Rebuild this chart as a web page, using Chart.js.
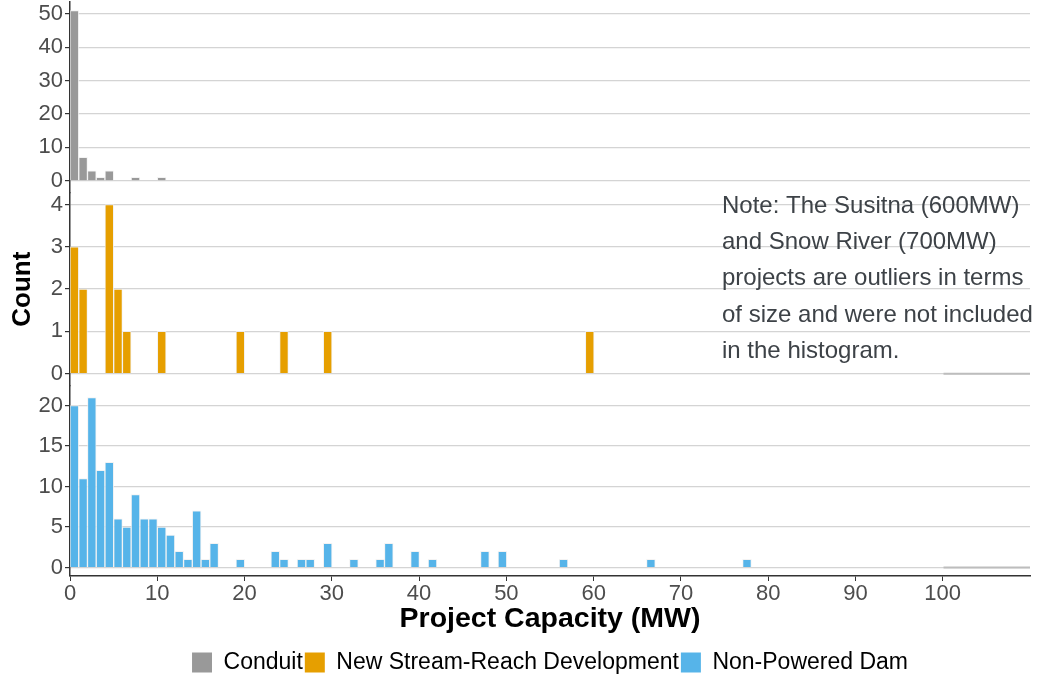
<!DOCTYPE html>
<html>
<head>
<meta charset="utf-8">
<script src="https://cdn.jsdelivr.net/npm/chart.js@4/dist/chart.umd.min.js"></script>
<style>
  html, body { margin: 0; padding: 0; background: #fff; }
  #wrap { width: 1038px; height: 678px; position: relative; }
</style>
</head>
<body>
<div id="wrap"><canvas id="chart" width="1038" height="678"></canvas></div>
<script>
// histogram bins (lower edge, MW) and counts per category, 1 MW bins
const conduitBins = [0, 1, 2, 3, 4, 7, 10];
const conduitCounts = [51, 7, 3, 1, 3, 1, 1];

const nsdBins = [0, 1, 4, 5, 6, 10, 19, 24, 29, 59];
const nsdCounts = [3, 2, 4, 2, 1, 1, 1, 1, 1, 1];

const npdBins = [0, 1, 2, 3, 4, 5, 6, 7, 8, 9, 10, 11, 12, 13, 14, 15, 16,
                 19, 23, 24, 26, 27, 29, 32, 35, 36, 39, 41, 47, 49, 56, 66, 77];
const npdCounts = [20, 11, 21, 12, 13, 6, 5, 9, 6, 6, 5, 4, 2, 1, 7, 1, 3,
                   1, 2, 1, 1, 1, 3, 1, 1, 3, 2, 1, 2, 2, 1, 1, 1];

const seriesNames = ['Conduit', 'New Stream-Reach Development', 'Non-Powered Dam'];
const seriesColors = ['#999999', '#E69F00', '#56B4E9'];

const xTickMax = 100;

const noteLines = [
  'Note: The Susitna (600MW)',
  'and Snow River (700MW)',
  'projects are outliers in terms',
  'of size and were not included',
  'in the histogram.'
];

const FONT = '"Liberation Sans", Arial, sans-serif';

function toPoints(bins, counts) {
  return bins.map((b, i) => ({ x: b + 0.5, y: counts[i] }));
}

function yAxis(min, max, step, weight, title) {
  return {
    type: 'linear',
    position: 'left',
    stack: 'panels',
    stackWeight: weight,
    min: min,
    max: max,
    grid: { color: '#d4d4d4', lineWidth: 1.2, tickColor: '#333', tickLength: 5 },
    border: { color: '#333', width: 1.5 },
    ticks: {
      stepSize: step,
      includeBounds: false,
      autoSkip: false,
      padding: 2,
      color: '#4d4d4d',
      font: { family: FONT, size: 22 }
    },
    title: title ? {
      display: true,
      text: title,
      color: '#000',
      font: { family: FONT, size: 26, weight: 'bold' },
      padding: { top: 7, bottom: 0 }
    } : { display: false },
    afterFit(scale) {
      scale.width = 70;
      scale.paddingTop = 0;
      scale.paddingBottom = 0;
    }
  };
}

// note text in the middle panel
const notePlugin = {
  id: 'note',
  afterDraw(chart) {
    const ctx = chart.ctx;
    ctx.save();
    ctx.font = '24px ' + FONT;
    ctx.fillStyle = '#3d4247';
    ctx.textAlign = 'left';
    ctx.textBaseline = 'alphabetic';
    noteLines.forEach((line, i) => {
      ctx.fillText(line, 722, 213 + i * 36.2);
    });
    ctx.restore();
  }
};

// slightly darker zero line past 100 MW, as in the original
const zeroStubPlugin = {
  id: 'zeroStub',
  beforeDatasetsDraw(chart) {
    const ctx = chart.ctx;
    const x = chart.scales.x;
    ctx.save();
    ctx.strokeStyle = '#bdbdbd';
    ctx.lineWidth = 2;
    ['yNsd', 'yNpd'].forEach(id => {
      const y = chart.scales[id].getPixelForValue(0);
      ctx.beginPath();
      ctx.moveTo(x.getPixelForValue(xTickMax), y);
      ctx.lineTo(chart.chartArea.right, y);
      ctx.stroke();
    });
    ctx.restore();
  }
};

new Chart(document.getElementById('chart').getContext('2d'), {
  type: 'bar',
  data: {
    datasets: [
      { label: seriesNames[2], data: toPoints(npdBins, npdCounts), yAxisID: 'yNpd',
        backgroundColor: seriesColors[2] },
      { label: seriesNames[1], data: toPoints(nsdBins, nsdCounts), yAxisID: 'yNsd',
        backgroundColor: seriesColors[1] },
      { label: seriesNames[0], data: toPoints(conduitBins, conduitCounts), yAxisID: 'yCon',
        backgroundColor: seriesColors[0] }
    ].map(ds => Object.assign(ds, {
      grouped: false,
      barPercentage: 1,
      categoryPercentage: 1,
      borderWidth: 1,
      borderColor: 'rgba(240,240,240,0.8)'
    }))
  },
  options: {
    responsive: false,
    animation: false,
    layout: { padding: { top: 2, right: 8, left: 0, bottom: -6 } },
    scales: {
      x: {
        type: 'linear',
        offset: false,
        min: 0,
        max: 109.9,
        grid: { offset: false, drawOnChartArea: false, tickColor: '#333', tickLength: 5 },
        border: { color: '#333', width: 1.5 },
        ticks: {
          stepSize: 10,
          includeBounds: false,
          autoSkip: false,
          padding: 0,
          maxRotation: 0,
          color: '#4d4d4d',
          font: { family: FONT, size: 22 },
          callback: v => String(Math.round(v))
        },
        afterBuildTicks(scale) {
          scale.ticks = scale.ticks.filter(t => t.value <= xTickMax);
        },
        title: {
          display: true,
          text: 'Project Capacity (MW)',
          color: '#000',
          font: { family: FONT, size: 28.5, weight: 'bold' },
          padding: { top: 2, bottom: 13 }
        },
        afterFit(scale) {
          scale.height = 73;
          scale.paddingLeft = 0;
          scale.paddingRight = 0;
        }
      },
      yNpd: yAxis(-1.05, 22.47, 5, 190.5),
      yNsd: yAxis(-0.284, 4.28, 1, 193.1, 'Count'),
      yCon: yAxis(-3.56, 53.55, 10, 190.8)
    },
    plugins: {
      tooltip: { enabled: false },
      legend: {
        position: 'bottom',
        fullSize: false,
        reverse: true,
        labels: {
          boxWidth: 20,
          boxHeight: 20,
          padding: 2,
          color: '#1a1a1a',
          font: { family: FONT, size: 23 },
          generateLabels(chart) {
            return chart.data.datasets.map((ds, i) => ({
              text: ds.label,
              fillStyle: ds.backgroundColor,
              strokeStyle: ds.backgroundColor,
              lineWidth: 0,
              datasetIndex: i
            }));
          }
        }
      }
    }
  },
  plugins: [notePlugin, zeroStubPlugin]
});
</script>
</body>
</html>
